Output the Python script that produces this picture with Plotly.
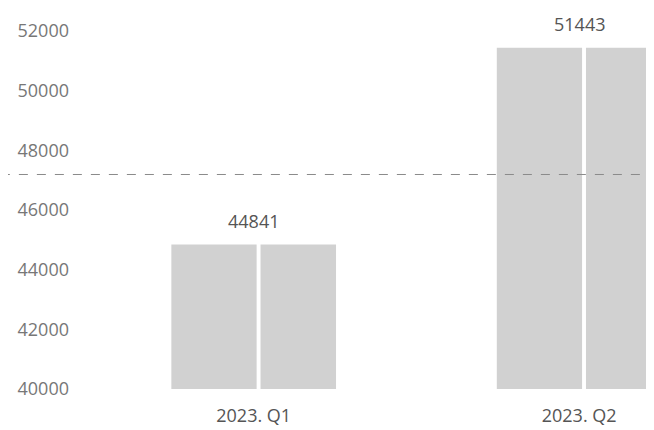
import plotly.graph_objects as go

categories = ["2023. Q1", "2023. Q2"]
values = [44841, 51443]
tick_vals = [40000, 42000, 44000, 46000, 48000, 50000, 52000]
tick_text = ["40000", "42000", "44000", "46000", "48000", "50000", "52000"]

FONT = "Open Sans, Segoe UI, sans-serif"
BAR = "#d1d1d1"

fig = go.Figure()
# each bar drawn as two halves with a thin white seam (as in the scanned original)
for off, wid in [(-0.253, 0.262), (0.021, 0.232)]:
    fig.add_trace(go.Bar(
        x=categories, y=values, base=0, offset=off, width=wid,
        marker=dict(color=BAR, line=dict(width=0)),
        showlegend=False, hoverinfo="skip",
    ))

for c, v in zip(categories, values):
    fig.add_annotation(x=c, y=v, text=str(v), showarrow=False,
                       yanchor="bottom", yshift=10,
                       font=dict(family=FONT, size=18, color="#555555"))

# faint horizontal scan line spanning the whole page width
fig.add_shape(type="line", xref="paper", x0=-0.13, x1=1, yref="paper", y0=0.566, y1=0.566,
              line=dict(color="#8a8a8a", width=1, dash="dash"), layer="above")

fig.update_layout(
    width=646, height=422,
    margin=dict(l=68, r=0, t=2, b=41),
    paper_bgcolor="white", plot_bgcolor="white",
    barmode="overlay",
    font=dict(family=FONT, size=18, color="#666666"),
    xaxis=dict(range=[-0.546, 1.23], showgrid=False, zeroline=False, showline=False,
               ticks="", tickfont=dict(size=18, color="#555555"), ticklabelstandoff=14),
    yaxis=dict(range=[40000, 52705], tickvals=tick_vals, ticktext=tick_text,
               showgrid=False, zeroline=False, showline=False, ticks="",
               tickfont=dict(size=18, color="#777777"), ticklabelstandoff=6),
)
fig.write_html("out.html")
